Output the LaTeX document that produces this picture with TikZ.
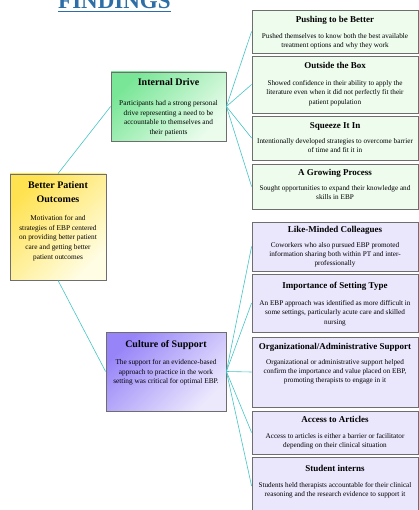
\documentclass[tikz,border=0pt]{standalone}
\usepackage{fontspec}
\setmainfont{Liberation Serif}
\definecolor{linec}{HTML}{44C4C4}
\definecolor{bordc}{HTML}{6E6E6E}
\definecolor{lgreen}{HTML}{EEFCEE}
\definecolor{lpurple}{HTML}{EAE6FC}
\definecolor{ttlc}{HTML}{2E6EA6}
\tikzset{
  conn/.style={draw=linec, line width=0.6pt},
  gbox/.style={draw=bordc, line width=0.8pt, fill=lgreen, inner sep=0pt, minimum width=166pt},
  pbox/.style={draw=bordc, line width=0.8pt, fill=lpurple, inner sep=0pt, minimum width=166pt},
  rttl/.style={anchor=base, inner sep=0pt, font=\fontsize{9}{11}\selectfont\bfseries},
  rbody/.style={anchor=north, inner sep=0pt, align=center, font=\fontsize{7.2}{9.4}\selectfont},
  mttl/.style={anchor=north, inner sep=0pt, align=center, font=\fontsize{10}{14}\selectfont\bfseries},
  mbody/.style={anchor=north, inner sep=0pt, align=center, font=\fontsize{7.3}{9.8}\selectfont},
  mbox/.style={draw=bordc, line width=0.8pt, inner sep=0pt}
}
\newcommand\mkrbox[8]{%
  \node[#2, minimum height={(#4-#3)*1pt}] (#1) at (335,{(#3+#4)/2}) {};
  \node[rttl] (#1t) at (335,{#5+3.2}) {#7};
  \node[rbody] (#1b) at (335,{#6-3}) {#8};
}
\begin{document}
\begin{tikzpicture}[x=1pt,y=-1pt]
\useasboundingbox (0,0) rectangle (419,510);

% title
\node[anchor=base west, inner sep=0pt, text=ttlc, font=\fontsize{23}{26}\selectfont\bfseries] (fnd) at (58,8.5) {FINDINGS};
\draw[ttlc, line width=1.6pt] ([yshift=-3.2pt]fnd.base west) -- ([yshift=-3.2pt]fnd.base east);

% main boxes
\node[mbox, minimum width=96pt, minimum height=106pt, top color={rgb,255:red,255;green,226;blue,80}, bottom color={rgb,255:red,255;green,253;blue,228}, shading angle=45] (bpo) at (58,227) {};
\node[mttl] (bpot) at (58,181) {Better Patient\\Outcomes};
\node[mbody] (bpob) at (58,215) {Motivation for and\\strategies of EBP centered\\on providing better patient\\care and getting better\\patient outcomes};

\node[mbox, minimum width=115pt, minimum height=69pt, top color={rgb,255:red,120;green,230;blue,150}, bottom color={rgb,255:red,235;green,252;blue,237}, shading angle=45] (id) at (168.5,106.5) {};
\node[mttl] (idt) at (168.5,78.5) {Internal Drive};
\node[mbody] (idb) at (168.5,100) {Participants had a strong personal\\drive representing a need to be\\accountable to themselves and\\their patients};

\node[mbox, minimum width=120pt, minimum height=79pt, top color={rgb,255:red,150;green,132;blue,248}, bottom color={rgb,255:red,236;green,233;blue,253}, shading angle=45] (cs) at (166,371.5) {};
\node[mttl] (cst) at (166,340) {Culture of Support};
\node[mbody] (csb) at (166,359) {The support for an evidence-based\\approach to practice in the work\\setting was critical for optimal EBP.};

% right boxes
\mkrbox{b1}{gbox}{10}{53}{19}{36}{Pushing to be Better}{Pushed themselves to know both the best available\\treatment options and why they work}
\mkrbox{b2}{gbox}{56}{113}{65}{83}{Outside the Box}{Showed confidence in their ability to apply the\\literature even when it did not perfectly fit their\\patient population}
\mkrbox{b3}{gbox}{116}{160}{125}{141}{Squeeze It In}{Intentionally developed strategies to overcome barrier\\of time and fit it in}
\mkrbox{b4}{gbox}{164}{209}{172}{188}{A Growing Process}{Sought opportunities to expand their knowledge and\\skills in EBP}
\mkrbox{p1}{pbox}{222}{271}{229}{245}{Like-Minded Colleagues}{Coworkers who also pursued EBP promoted\\information sharing both within PT and inter-\\professionally}
\mkrbox{p2}{pbox}{274}{332}{285}{303}{Importance of Setting Type}{An EBP approach was identified as more difficult in\\some settings, particularly acute care and skilled\\nursing}
\mkrbox{p3}{pbox}{337}{407}{346}{362}{Organizational/Administrative Support}{Organizational or administrative support helped\\confirm the importance and value placed on EBP,\\promoting therapists to engage in it}
\mkrbox{p4}{pbox}{411}{454}{419}{436}{Access to Articles}{Access to articles is either a barrier or facilitator\\depending on their clinical situation}
\mkrbox{p5}{pbox}{457}{515}{468}{485}{Student interns}{Students held therapists accountable for their clinical\\reasoning and the research evidence to support it}

% connectors
\draw[conn] (bpo.north) -- (id.west);
\draw[conn] (bpo.south) -- (cs.west);
\foreach \b in {b1,b2,b3,b4} \draw[conn] (id.east) -- (\b.west);
\foreach \b in {p1,p2,p3,p4,p5} \draw[conn] (cs.east) -- (\b.west);
\end{tikzpicture}
\end{document}
